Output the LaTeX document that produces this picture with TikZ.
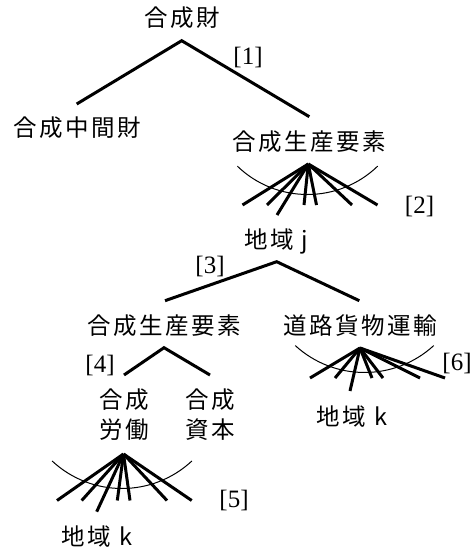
\documentclass[tikz,border=0pt]{standalone}
\usepackage{fontspec}
\setmainfont{Liberation Serif}
\newfontfamily\cjk[LetterSpace=11]{Noto Sans CJK JP}
\begin{document}
\begin{tikzpicture}[x=1pt,y=-1pt,
  lbl/.style={inner sep=0pt,anchor=base,font=\cjk\fontsize{23.5}{30.5}\selectfont},
  num/.style={inner sep=0pt,anchor=center,font=\fontsize{25}{28}\selectfont},
  branch/.style={line width=3pt},
  fanline/.style={line width=3pt},
  fanarc/.style={line width=1pt}]
\useasboundingbox (0,0) rectangle (475,551);
% labels
\node[lbl] (top) at (182,27) {合成財};
\node[lbl] (mid) at (77,136.7) {合成中間財};
\node[lbl] (fac1) at (309,150.7) {合成生産要素};
\node[lbl] (regj) at (276,248.7) {地域 j};
\node[lbl] (fac2) at (164,334.7) {合成生産要素};
\node[lbl] (road) at (360,334.7) {道路貨物運輸};
\node[lbl,align=center] (lab) at (124,438.7) {合成\\労働};
\node[lbl,align=center] (cap) at (210,438.7) {合成\\資本};
\node[lbl] (regk1) at (352,425.4) {地域 k};
\node[lbl] (regk2) at (97,545.4) {地域 k};
% numbers
\node[num] (n1) at (248,57.5) {[1]};
\node[num] (n2) at (419.5,206) {[2]};
\node[num] (n3) at (210,266) {[3]};
\node[num] (n4) at (100,365) {[4]};
\node[num] (n5) at (234,500) {[5]};
\node[num] (n6) at (457,363) {[6]};
% branch points
\coordinate (a1) at (181.7,40.7);
\coordinate (a1l) at (76.7,104);
\coordinate (a1r) at (309.3,116.7);
\draw[branch] (a1l) -- (a1) -- (a1r);
\coordinate (a3) at (276.7,261.7);
\coordinate (a3l) at (165,300.7);
\coordinate (a3r) at (359.3,300.7);
\draw[branch] (a3l) -- (a3) -- (a3r);
\coordinate (a4) at (164,347.7);
\coordinate (a4l) at (124,375);
\coordinate (a4r) at (210,375);
\draw[branch] (a4l) -- (a4) -- (a4r);
% fan 1
\coordinate (f1) at (308.3,164);
\foreach \x/\y in {242.5/205,267/205,277/215,304/205,316.5/205,352/205,377.5/205}
  \draw[fanline] (f1) -- (\x,\y);
\coordinate (c1) at (307.5,93.5);
\draw[fanarc] (c1) ++(226:101pt) arc[start angle=226,end angle=314,radius=101pt];
% fan 2
\coordinate (f2) at (360,348);
\foreach \x/\y in {310/378,335/378,350/391,372/378,383/378,420/378,445/378}
  \draw[fanline] (f2) -- (\x,\y);
\coordinate (c2) at (364.5,270);
\draw[fanarc] (c2) ++(227.5:102.5pt) arc[start angle=227.5,end angle=312.5,radius=102.5pt];
% fan 3
\coordinate (f3) at (123.5,454);
\foreach \x/\y in {57/500.5,81.7/500.5,96.7/511.7,117.3/500.5,130/500.5,167/500.5,191.7/500.5}
  \draw[fanline] (f3) -- (\x,\y);
\coordinate (c3) at (122,386);
\draw[fanarc] (c3) ++(227:102.5pt) arc[start angle=227,end angle=313,radius=102.5pt];
\end{tikzpicture}
\end{document}
